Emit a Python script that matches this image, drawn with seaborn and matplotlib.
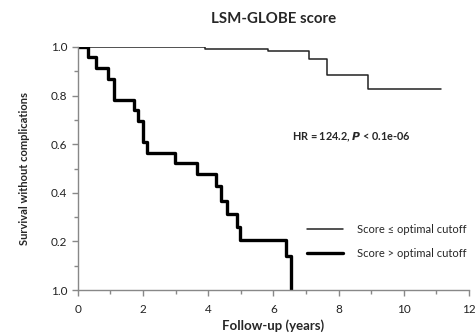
import matplotlib
matplotlib.use("Agg")
import matplotlib.pyplot as plt
import seaborn as sns
import pandas as pd
from matplotlib.lines import Line2D

# Data (Kaplan-Meier step curves)
low_time = [0.0, 3.91, 5.83, 7.09, 7.65, 8.90, 11.14]
low_surv = [1.0, 0.993, 0.983, 0.952, 0.883, 0.828, 0.828]

high_time = [0.0, 0.32, 0.55, 0.93, 1.11, 1.72, 1.86, 2.01, 2.13, 2.98, 3.67,
             4.24, 4.39, 4.57, 4.88, 4.98, 6.38, 6.54]
high_surv = [1.0, 0.957, 0.913, 0.870, 0.783, 0.739, 0.696, 0.609, 0.565, 0.522,
             0.478, 0.430, 0.365, 0.313, 0.258, 0.205, 0.140, 0.0]

x_ticks = [0, 2, 4, 6, 8, 10, 12]
y_ticks = [0.0, 0.2, 0.4, 0.6, 0.8, 1.0]
y_tick_labels = ["1.0", "0.2", "0.4", "0.6", "0.8", "1.0"]
legend_labels = ["Score \u2264 optimal cutoff", "Score > optimal cutoff"]

sns.set_style("white")
plt.rcParams["font.family"] = ["Lato", "DejaVu Sans"]

fig = plt.figure(figsize=(4.75, 3.35), dpi=100)
ax = fig.add_axes([0.164, 0.134, 0.823, 0.726])

df_low = pd.DataFrame({"t": low_time, "s": low_surv})
df_high = pd.DataFrame({"t": high_time, "s": high_surv})
sns.lineplot(data=df_low, x="t", y="s", ax=ax, drawstyle="steps-post",
             color="#222222", linewidth=1.1, estimator=None)
sns.lineplot(data=df_high, x="t", y="s", ax=ax, drawstyle="steps-post",
             color="#000000", linewidth=2.4, estimator=None)

ax.set_xlim(0, 12)
ax.set_ylim(0, 1.0)
ax.set_xticks(x_ticks)
ax.set_xticks(range(1, 12, 2), minor=True)
ax.set_yticks(y_ticks)
ax.set_yticklabels(y_tick_labels)
ax.set_yticks([0.1, 0.3, 0.5, 0.7, 0.9], minor=True)

for side in ["top", "right"]:
    ax.spines[side].set_visible(False)
for side in ["left", "bottom"]:
    ax.spines[side].set_color("#888888")
    ax.spines[side].set_linewidth(1.0)

ax.tick_params(axis="both", which="both", direction="out", color="#888888",
               labelsize=8.5, labelcolor="#222222")
ax.tick_params(which="major", length=4, width=1, bottom=True, left=True)
ax.tick_params(which="minor", length=3, width=1, bottom=True, left=True)
ax.tick_params(axis="x", pad=6)

ax.set_xlabel("Follow-up (years)", fontsize=9.5, fontweight="bold", labelpad=3)
ax.set_ylabel("Survival without complications", fontsize=8, fontweight="bold", labelpad=15)
ax.set_title("LSM-GLOBE score", fontsize=10.8, fontweight="bold", pad=17)

ax.text(0.547, 0.628, r"HR = 124.2, $\mathbfit{P}$ < 0.1e-06", transform=ax.transAxes,
        fontsize=7.8, fontweight="bold", ha="left", va="center")

handles = [Line2D([0], [0], color="#222222", lw=1.1),
           Line2D([0], [0], color="#000000", lw=2.4)]
ax.legend(handles, legend_labels, loc="center left", bbox_to_anchor=(0.585, 0.2),
          frameon=False, fontsize=8, handlelength=3.3, handletextpad=1.2,
          labelspacing=1.2, borderaxespad=0, borderpad=0)

fig.savefig("out.png", dpi=100)
